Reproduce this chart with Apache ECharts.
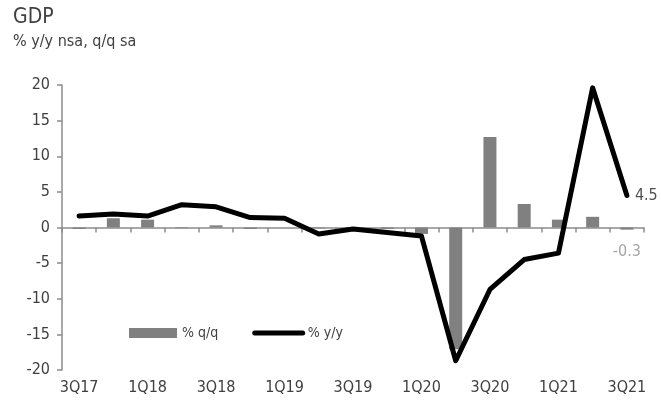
<!DOCTYPE html>
<html>
<head>
<meta charset="utf-8">
<script src="https://cdn.jsdelivr.net/npm/echarts@6/dist/echarts.min.js"></script>
<style>
  html, body { margin: 0; padding: 0; background: #fff; }
  #chart { width: 661px; height: 411px; }
</style>
</head>
<body>
<div id="chart"></div>
<script>
const quarters = ['3Q17', '4Q17', '1Q18', '2Q18', '3Q18', '4Q18', '1Q19', '2Q19', '3Q19',
  '4Q19', '1Q20', '2Q20', '3Q20', '4Q20', '1Q21', '2Q21', '3Q21']
const qoq = [-0.2, 1.3, 1.1, -0.1, 0.3, -0.2, 0.0, -0.1, -0.1, -0.2, -0.9, -17.1, 12.7, 3.3, 1.1, 1.5, -0.3]
const yoy = [1.6, 1.9, 1.6, 3.2, 2.9, 1.4, 1.3, -0.9, -0.2, -0.7, -1.2, -18.7, -8.7, -4.5, -3.6, 19.6, 4.5]

const font = "'Liberation Sans Narrow', 'DejaVu Sans Condensed', sans-serif"
const textColor = '#404040'
const axisColor = '#8c8c8c'
const last = quarters.length - 1

const chart = echarts.init(document.getElementById('chart'))

chart.setOption({
  backgroundColor: '#fff',
  animation: false,
  textStyle: { fontFamily: font, color: textColor },
  title: {
    text: 'GDP',
    subtext: '% y/y nsa, q/q sa',
    left: 8,
    top: 2,
    itemGap: 6,
    textStyle: { fontFamily: font, fontSize: 21, fontWeight: 'normal', color: textColor },
    subtextStyle: { fontFamily: font, fontSize: 16, color: textColor }
  },
  legend: {
    left: 124,
    top: 321,
    itemWidth: 48,
    itemHeight: 10,
    itemGap: 34,
    textStyle: { fontFamily: font, fontSize: 14, color: textColor },
    data: [
      { name: '% q/q', icon: 'rect' },
      { name: '% y/y', itemStyle: { opacity: 0 }, lineStyle: { width: 5, color: '#000' } }
    ]
  },
  grid: { left: 62, right: 17, top: 85, bottom: 41, outerBoundsMode: 'none', containLabel: false },
  xAxis: [
    {
      // zero line with ticks between quarters
      type: 'category',
      data: quarters,
      axisLine: { onZero: true, lineStyle: { color: axisColor, width: 1.5 } },
      axisTick: { show: true, interval: 0, length: 5, lineStyle: { color: axisColor, width: 1.5 } },
      axisLabel: { show: false }
    },
    {
      // labels along the bottom
      type: 'category',
      data: quarters,
      position: 'bottom',
      axisLine: { show: false, onZero: false },
      axisTick: { show: false },
      axisLabel: { interval: 1, margin: 10, fontSize: 16, color: textColor, fontFamily: font }
    }
  ],
  yAxis: {
    type: 'value',
    min: -20,
    max: 20,
    interval: 5,
    splitLine: { show: false },
    axisLine: { show: true, lineStyle: { color: axisColor, width: 1.5 } },
    axisTick: { show: true, length: 5, lineStyle: { color: axisColor, width: 1.5 } },
    axisLabel: { fontSize: 16, color: textColor, fontFamily: font, margin: 12 }
  },
  series: [
    {
      name: '% q/q',
      type: 'bar',
      data: qoq.map((v, i) => i === last
        ? { value: v, label: { show: true, position: 'bottom', distance: 14, color: '#a6a6a6', fontSize: 16, fontFamily: font } }
        : v),
      barWidth: 13,
      itemStyle: { color: '#808080' }
    },
    {
      name: '% y/y',
      type: 'line',
      data: yoy,
      symbol: 'none',
      z: 3,
      lineStyle: { color: '#000', width: 5, cap: 'round', join: 'round' },
      itemStyle: { color: '#000' },
      endLabel: { show: true, formatter: '{c}', distance: 8, color: '#505050', fontSize: 16, fontFamily: font }
    }
  ]
})

window.addEventListener('resize', () => chart.resize())
</script>
</body>
</html>
